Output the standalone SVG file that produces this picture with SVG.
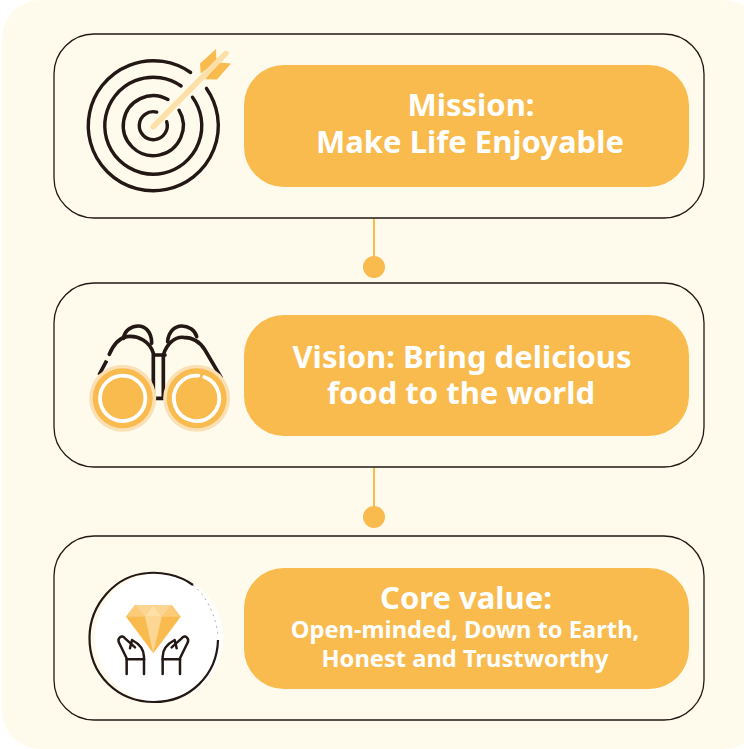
<svg xmlns="http://www.w3.org/2000/svg" width="744" height="749" viewBox="0 0 744 749">
<style>
.card{fill:#fffbec;stroke:#231815;stroke-width:1.3}
.pill{fill:#f9bb4e}
.t{font-family:"Noto Sans","Liberation Sans",sans-serif;font-weight:700;fill:#fff;text-anchor:middle;font-size:31px}
.s{font-size:23.700px}
.ink{fill:none;stroke:#231815;stroke-linecap:round;stroke-linejoin:round}
.conn{stroke:#f9bb4e;stroke-width:2;fill:none}
.dot{fill:#f9bb4e}
.lo{fill:#fbdfb5}
.lm{fill:#f9bb4e}
.lr{fill:none;stroke:#fff;stroke-width:3.800;stroke-linecap:round}
</style>
<rect width="744" height="749" fill="#fff"/>
<rect x="2" y="0" width="760" height="749" rx="38" fill="#fffbec"/>
<g id="connectors">
<path class="conn" d="M374 218V267"/><circle class="dot" cx="374" cy="267" r="11"/>
<path class="conn" d="M374 467V517"/><circle class="dot" cx="374" cy="517" r="11"/>
</g>
<g id="mission">
<rect class="card" x="54" y="34" width="650" height="184" rx="40"/>
<g class="ink" stroke-width="3.400">
<path d="M190.600 72.500A65 65 0 1 0 206.500 88.400"/>
<path d="M181.100 86A48.500 48.500 0 1 0 192.500 97.200"/>
<path d="M168 99.500A30 30 0 1 0 179 110.200"/>
<path d="M156.700 112.100A14 14 0 1 0 166.700 121.700"/>
</g>
<path d="M216 49L200 63.500L200.700 73.500L216.500 62Z" fill="#f9bb4e"/>
<path d="M231 63.500L217 79.500L205 79.300L219 62.500Z" fill="#f9bb4e"/>
<path d="M153.300 126.700L226 53.300" stroke="#fde0a8" stroke-width="5.500" stroke-linecap="round"/>
<rect class="pill" x="244" y="65" width="445" height="122" rx="40"/>
<text class="t" x="471" y="116">Mission:</text>
<text class="t" x="470" y="153">Make Life Enjoyable</text>
</g>
<g id="vision">
<rect class="card" x="54" y="283" width="650" height="184" rx="40"/>
<g class="ink" stroke-width="11" transform="translate(70 310) scale(.3333)">
<path d="M87 195L110 152" stroke-linecap="butt"/>
<path d="M118 133C130 105 145 85 170 80C205 75 240 95 250 130V265H280"/>
<path d="M160 85C165 60 185 48 205 48C225 48 245 65 245 100"/>
<path d="M255 135H285"/>
<path d="M280 265V135C290 100 315 80 340 82C370 82 390 95 405 120L455 205" stroke-linecap="butt"/>
<path d="M293 95C295 65 315 48 335 48C355 48 375 60 380 80"/>
</g>
<circle class="lo" cx="122.700" cy="398.300" r="33.500"/><circle class="lm" cx="122.700" cy="398.300" r="30"/><circle class="lr" cx="122.700" cy="398.300" r="22.700"/>
<circle class="lo" cx="196.700" cy="398.300" r="33.500"/><circle class="lm" cx="196.700" cy="398.300" r="30"/>
<path class="lr" d="M198.300 375.700A22.700 22.700 0 1 0 204.300 377"/>
<rect class="pill" x="244" y="315" width="445" height="121" rx="40"/>
<text class="t" x="462" y="368">Vision: Bring delicious</text>
<text class="t" x="461" y="404">food to the world</text>
</g>
<g id="core-value">
<rect class="card" x="54" y="536" width="650" height="184" rx="40"/>
<circle cx="159" cy="637.500" r="64" fill="#fff"/>
<path d="M193 585C178 574 160 572 148 573C115 575 90 605 89.500 637C89 675 118 702 154 702C190 702 217 675 218 640" fill="none" stroke="#231815" stroke-width="2.200"/>
<path d="M193 585C205 595 215 612 218 635" fill="none" stroke="#b5b1ac" stroke-width="1" stroke-dasharray="2 4"/>
<path d="M135 605H171.700L180.700 616.700L153.300 653.300L126 616.700Z" fill="#f9bb4e"/>
<path d="M135 605L126 616.700H145Z M171.700 605L180.700 616.700H161.700Z" fill="#fbcb78"/>
<path d="M135 605H153.300L145 616.700Z M171.700 605H153.300L161.700 616.700Z" fill="#fcd592"/>
<path d="M153.300 605L145 616.700H161.700Z" fill="#fde0a8"/>
<path d="M145 616.700H161.700L153.300 653.300Z" fill="#fdd694"/>
<g class="ink" stroke-width="7.500" transform="translate(70 560) scale(.3333)">
<g><path d="M170 342V295L148 250C140 235 155 222 165 235L195 262"/><path d="M180 265L186 240C205 250 222 265 222 290V342"/><path d="M170 298H222"/></g>
<g transform="matrix(-1 0 0 1 500 0)"><path d="M170 342V295L148 250C140 235 155 222 165 235L195 262"/><path d="M180 265L186 240C205 250 222 265 222 290V342"/><path d="M170 298H222"/></g>
</g>
<rect class="pill" x="244" y="568" width="445" height="121" rx="40"/>
<text class="t" x="466" y="609">Core value:</text>
<text class="t s" x="465" y="638">Open-minded, Down to Earth,</text>
<text class="t s" x="465" y="667">Honest and Trustworthy</text>
</g>
</svg>
